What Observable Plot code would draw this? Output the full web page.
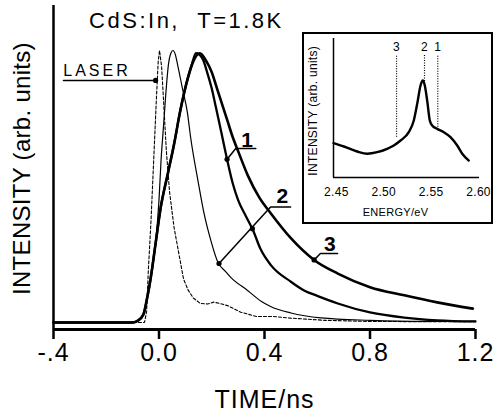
<!DOCTYPE html>
<html><head><meta charset="utf-8">
<script src="https://cdn.jsdelivr.net/npm/d3@7"></script>
<script src="https://cdn.jsdelivr.net/npm/@observablehq/plot@0.6"></script>
<style>
body{margin:0;background:#fff;}
#wrap{position:relative;width:497px;height:413px;overflow:hidden;}
#main{position:absolute;left:0;top:0;}
#inset{position:absolute;left:302px;top:32px;width:187px;height:188px;border:2px solid #000;background:#fff;}
svg{display:block;}
</style></head><body>
<div id="wrap"><div id="main"></div><div id="inset"></div></div>
<script>
// ---- main panel data (time in ns, normalised intensity) ----
const laserT = [-0.40,-0.055,-0.047,-0.04,-0.03,-0.02,-0.01,-0.003,0.002,0.01,0.017,0.028,0.04,0.057,0.074,0.093,0.11,0.13,0.157,0.185,0.207,0.23,0.26,0.31,0.37,0.434,0.5,0.63,0.8,1.0,1.2];
const laserI = [0,0,0.04,0.2,0.38,0.6,0.82,0.96,1.0,0.94,0.82,0.63,0.48,0.35,0.26,0.16,0.12,0.09,0.07,0.068,0.075,0.07,0.062,0.038,0.022,0.022,0.016,0.008,0.004,0.003,0.003];

const curve2T = [-0.40,-0.10,-0.08,-0.059,-0.045,-0.032,-0.013,0.0,0.008,0.017,0.025,0.036,0.045,0.053,0.062,0.07,0.089,0.108,0.12,0.148,0.171,0.197,0.224,0.25,0.273,0.337,0.387,0.425,0.5,0.614,0.8,1.0,1.2];
const curve2I = [0,0,0.007,0.03,0.09,0.16,0.29,0.45,0.6,0.72,0.83,0.95,0.99,1.0,0.985,0.95,0.86,0.77,0.68,0.52,0.40,0.30,0.22,0.19,0.165,0.117,0.078,0.058,0.035,0.017,0.008,0.004,0.004];

const curve1T = [-0.40,-0.10,-0.08,-0.059,-0.045,-0.032,-0.013,0.006,0.034,0.056,0.081,0.107,0.125,0.14,0.165,0.184,0.2,0.216,0.236,0.258,0.28,0.30,0.33,0.356,0.385,0.425,0.5,0.55,0.6,0.678,0.8,0.93,1.055,1.2];
const curve1I = [0,0,0.007,0.03,0.09,0.16,0.29,0.42,0.55,0.65,0.78,0.89,0.95,0.99,0.97,0.915,0.86,0.79,0.7,0.6,0.51,0.45,0.39,0.34,0.27,0.21,0.15,0.118,0.098,0.07,0.037,0.018,0.008,0.004];

const curve3T = [-0.40,-0.10,-0.08,-0.059,-0.045,-0.032,-0.013,0.006,0.034,0.056,0.081,0.107,0.13,0.155,0.18,0.2,0.22,0.24,0.26,0.28,0.30,0.337,0.38,0.425,0.5,0.588,0.678,0.8,0.93,1.055,1.19];
const curve3I = [0,0,0.007,0.03,0.09,0.16,0.29,0.42,0.55,0.65,0.78,0.89,0.96,0.99,0.96,0.92,0.86,0.8,0.74,0.68,0.63,0.54,0.46,0.40,0.31,0.23,0.18,0.13,0.1,0.074,0.051];

const timeTicks = [-0.4, 0.0, 0.4, 0.8, 1.2];
const timeTickLabels = ["-.4", "0.0", "0.4", "0.8", "1.2"];

// ---- inset data (energy in eV, intensity) ----
const specE = [2.447,2.458,2.472,2.4826,2.4931,2.5036,2.5106,2.5177,2.5264,2.5317,2.5353,2.5388,2.5412,2.5433,2.5458,2.5486,2.5511,2.5564,2.5634,2.5704,2.5775,2.5828,2.5897];
const specI = [0.247,0.223,0.187,0.171,0.182,0.206,0.230,0.266,0.326,0.410,0.530,0.662,0.698,0.662,0.554,0.410,0.374,0.350,0.326,0.290,0.230,0.171,0.122];
const markE = [2.5135, 2.543, 2.557];
const markI = [0.29, 0.69, 0.362];
const markLabels = ["3", "2", "1"];
const energyTicks = [2.45, 2.50, 2.55, 2.60];

const zip = (T, V) => T.map((t, i) => ({t, v: V[i]}));
const font = "'Liberation Sans', Arial, Helvetica, sans-serif";

const yMin = -0.0257, yMax = 1.1654;

const main = Plot.plot({
  width: 497, height: 413,
  marginLeft: 53, marginRight: 22, marginTop: 5, marginBottom: 84,
  x: {domain: [-0.4, 1.2], axis: null},
  y: {domain: [yMin, yMax], axis: null},
  style: {fontFamily: font, background: "white", color: "black", overflow: "visible"},
  marks: [
    Plot.line(zip(laserT, laserI), {x: "t", y: "v", stroke: "black", strokeWidth: 1.1, strokeDasharray: "3,2"}),
    Plot.line(zip(curve2T, curve2I), {x: "t", y: "v", stroke: "black", strokeWidth: 1.2, curve: "monotone-x"}),
    Plot.line(zip(curve1T, curve1I), {x: "t", y: "v", stroke: "black", strokeWidth: 2.3, curve: "monotone-x"}),
    Plot.line(zip(curve3T, curve3I), {x: "t", y: "v", stroke: "black", strokeWidth: 2.6, curve: "monotone-x"}),
    // axes
    Plot.ruleX([-0.4], {stroke: "black", strokeWidth: 2.5}),
    Plot.ruleY([yMin], {stroke: "black", strokeWidth: 3}),
    Plot.axisX({ticks: timeTicks, tickFormat: d => timeTickLabels[timeTicks.findIndex(v => Math.abs(v - d) < 1e-9)],
      tickSize: 10, tickPadding: 4, fontSize: 25, strokeWidth: 2.5, label: null}),
    Plot.text(["TIME/ns"], {x: 0.4, frameAnchor: "bottom", lineAnchor: "middle", dy: 70, fontSize: 25}),
    Plot.text(["INTENSITY (arb. units)"], {frameAnchor: "left", textAnchor: "middle", lineAnchor: "middle", y: 0.566, dx: -31, rotate: -90, fontSize: 24}),
    Plot.text(["CdS:In,\u00a0\u00a0T=1.8K"], {x: 0.104, y: 1.11, fontSize: 22}),
    // LASER annotation
    Plot.text(["LASER"], {x: -0.235, y: 0.925, fontSize: 16}),
    Plot.line([{t: -0.362, v: 0.89}, {t: -0.013, v: 0.89}], {x: "t", y: "v", stroke: "black", strokeWidth: 1.5}),
    // curve labels with leaders
    Plot.line([{t: 0.258, v: 0.6}, {t: 0.291, v: 0.64}, {t: 0.367, v: 0.64}], {x: "t", y: "v", stroke: "black", strokeWidth: 1.5}),
    Plot.line([{t: 0.2275, v: 0.217}, {t: 0.423, v: 0.425}, {t: 0.499, v: 0.425}], {x: "t", y: "v", stroke: "black", strokeWidth: 1.5}),
    Plot.line([{t: 0.588, v: 0.23}, {t: 0.612, v: 0.254}, {t: 0.677, v: 0.254}], {x: "t", y: "v", stroke: "black", strokeWidth: 1.5}),
    Plot.dot([{t: -0.013, v: 0.89}, {t: 0.258, v: 0.6}, {t: 0.2275, v: 0.217}, {t: 0.354, v: 0.345}, {t: 0.588, v: 0.23}],
      {x: "t", y: "v", r: 2.6, fill: "black", stroke: "none"}),
    Plot.text(["1"], {x: 0.336, y: 0.67, fontSize: 21, fontWeight: "bold"}),
    Plot.text(["2"], {x: 0.47, y: 0.465, fontSize: 21, fontWeight: "bold"}),
    Plot.text(["3"], {x: 0.65, y: 0.288, fontSize: 21, fontWeight: "bold"})
  ]
});
document.getElementById("main").appendChild(main);

const inset = Plot.plot({
  width: 187, height: 188,
  marginLeft: 29, marginRight: 12, marginTop: 4, marginBottom: 45,
  x: {domain: [2.447, 2.601], axis: null},
  y: {domain: [0, 1], axis: null},
  style: {fontFamily: font, background: "white", color: "black", overflow: "visible"},
  marks: [
    Plot.ruleX([2.447], {stroke: "black", strokeWidth: 1.5}),
    Plot.ruleY([0], {stroke: "black", strokeWidth: 1.5}),
    Plot.axisX({ticks: energyTicks, tickFormat: d => d.toFixed(2), tickSize: 0, tickPadding: 10, fontSize: 12, label: null}),
    Plot.ruleX(markE, {x: d => d, y1: (d, i) => markI[i], y2: 0.878, stroke: "black", strokeWidth: 1.2, strokeDasharray: "1,1.5"}),
    Plot.text(markLabels, {x: (d, i) => markE[i], y: 0.94, fontSize: 12}),
    Plot.line(zip(specE, specI), {x: "t", y: "v", stroke: "black", strokeWidth: 2.4, curve: "monotone-x"}),
    Plot.text(["ENERGY/eV"], {x: 2.5124, frameAnchor: "bottom", lineAnchor: "middle", dy: 35, fontSize: 11}),
    Plot.text(["INTENSITY (arb. units)"], {frameAnchor: "left", textAnchor: "middle", lineAnchor: "middle", y: 0.48, dx: -20, rotate: -90, fontSize: 12})
  ]
});
document.getElementById("inset").appendChild(inset);

// letter spacing to match the wide lettering of the original
const spacing = {"CdS:In,\u00a0\u00a0T=1.8K": "2.5px", "LASER": "3px", "TIME/ns": "1px", "INTENSITY (arb. units)": "0.3px"};
d3.select(main).selectAll("text").each(function() {
  const s = spacing[this.textContent];
  this.style.letterSpacing = s !== undefined ? s : "1px";
});
d3.select(inset).selectAll("text").each(function() { this.style.letterSpacing = "0.3px"; });
</script>
</body></html>
